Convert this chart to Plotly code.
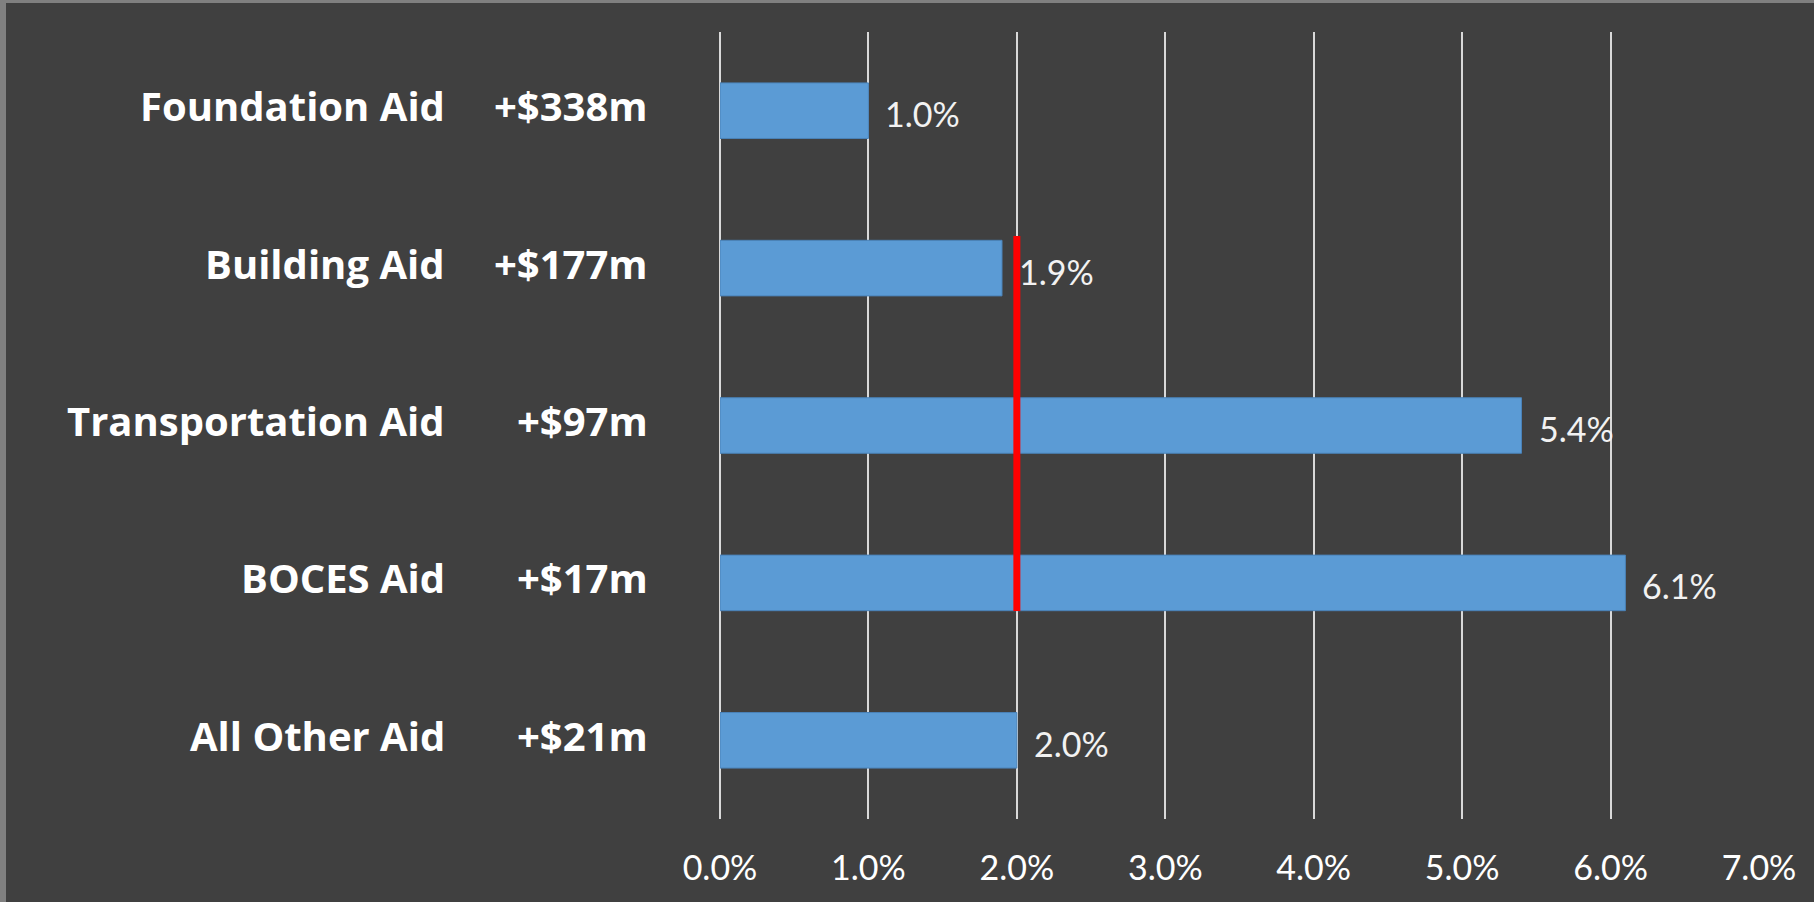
import plotly.graph_objects as go

categories = ["Foundation Aid", "Building Aid", "Transportation Aid", "BOCES Aid", "All Other Aid"]
amounts = ["+$338m", "+$177m", "+$97m", "+$17m", "+$21m"]
pct_change = [1.0, 1.9, 5.4, 6.1, 2.0]
benchmark = 2.0
tick_vals = [0, 1, 2, 3, 4, 5, 6, 7]

W, H = 1814, 902
L, R, T, B = 720, 55, 32, 83
pw, ph = W - L - R, H - T - B

def px_x(px):
    return (px - L) / pw

def px_y(py):
    return (H - B - py) / ph

LABEL_FONT = "Open Sans"
NUM_FONT = "Lato"
fig = go.Figure()
fig.add_trace(go.Bar(
    x=pct_change, y=categories, orientation="h", width=0.353,
    marker=dict(color="#5b9bd5", line=dict(color="#4a82b8", width=1)),
    hoverinfo="skip", showlegend=False,
))

annotations = []
for cat, amt, v in zip(categories, amounts, pct_change):
    annotations.append(dict(x=v, y=cat, xref="x", yref="y", text=f"{v:.1f}%",
                            showarrow=False, xanchor="left", xshift=15, yshift=-3,
                            font=dict(family=NUM_FONT, size=34, color="#f2f2f2")))
    annotations.append(dict(x=px_x(447), y=cat, xref="paper", yref="y", text=f"<b>{cat}</b>",
                            showarrow=False, xanchor="right", yshift=5,
                            font=dict(family=LABEL_FONT, size=40, color="#ffffff")))
    annotations.append(dict(x=px_x(650), y=cat, xref="paper", yref="y", text=f"<b>{amt}</b>",
                            showarrow=False, xanchor="right", yshift=5,
                            font=dict(family=LABEL_FONT, size=40, color="#ffffff")))

shapes = [
    dict(type="rect", xref="paper", yref="paper", x0=px_x(0), x1=px_x(6),
         y0=px_y(H), y1=px_y(0), fillcolor="#808080", line=dict(width=0), layer="below"),
    dict(type="rect", xref="paper", yref="paper", x0=px_x(0), x1=px_x(W),
         y0=px_y(3), y1=px_y(0), fillcolor="#808080", line=dict(width=0), layer="below"),
    dict(type="line", xref="x", yref="y", x0=benchmark, x1=benchmark,
         y0=categories.index("Building Aid") - 0.204, y1=categories.index("BOCES Aid") + 0.178,
         line=dict(color="#ff0000", width=7), layer="above"),
]

fig.update_layout(
    width=W, height=H, autosize=False,
    margin=dict(l=L, r=R, t=T, b=B, pad=0),
    paper_bgcolor="#404040", plot_bgcolor="#404040",
    annotations=annotations, shapes=shapes,
    xaxis=dict(range=[0, 7], tickvals=tick_vals, ticktext=[f"{t:.1f}%" for t in tick_vals],
               showgrid=True, gridcolor="#d9d9d9", gridwidth=1.5,
               zeroline=True, zerolinecolor="#d9d9d9", zerolinewidth=1.5,
               showline=False, ticks="", ticklabelstandoff=26,
               tickfont=dict(family=NUM_FONT, size=34, color="#ffffff"),
               fixedrange=True),
    yaxis=dict(type="category", categoryorder="array", categoryarray=categories,
               range=[len(categories) - 0.5, -0.5], showticklabels=False,
               showgrid=False, zeroline=False, showline=False, ticks="", fixedrange=True),
)

fig.write_html("out.html", config={"displayModeBar": False},
               post_script="document.body.style.margin='0';document.body.style.overflow='hidden';")
